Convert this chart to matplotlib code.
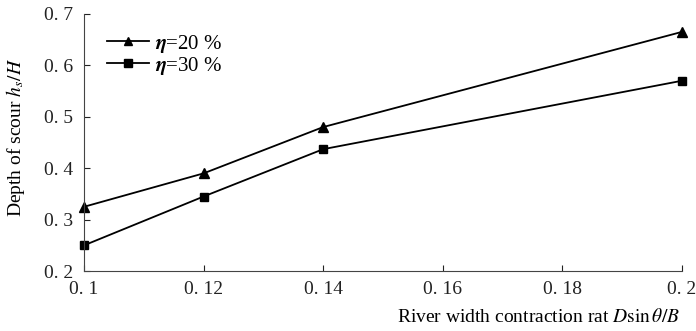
import matplotlib
matplotlib.use("Agg")
import matplotlib.pyplot as plt

# data
ratio = [0.10, 0.12, 0.14, 0.20]
depth_20 = [0.325, 0.39, 0.48, 0.665]
depth_30 = [0.25, 0.345, 0.437, 0.57]
x_ticks = [0.10, 0.12, 0.14, 0.16, 0.18, 0.20]
x_labels = ["0. 1", "0. 12", "0. 14", "0. 16", "0. 18", "0. 2"]
y_ticks = [0.2, 0.3, 0.4, 0.5, 0.6, 0.7]
y_labels = ["0. 2", "0. 3", "0. 4", "0. 5", "0. 6", "0. 7"]

plt.rcParams["font.family"] = ["Liberation Serif", "DejaVu Serif"]
plt.rcParams["mathtext.fontset"] = "stix"

fig = plt.figure(figsize=(6.96, 3.31), dpi=100)
ax = fig.add_axes([0.1207, 0.181, 0.859, 0.777])

ax.plot(ratio, depth_20, color="black", lw=1.3, marker="^", ms=7,
        label=r"$\boldsymbol{\eta}$=20 %")
ax.plot(ratio, depth_30, color="black", lw=1.3, marker="s", ms=6,
        label=r"$\boldsymbol{\eta}$=30 %")

ax.set_xlim(0.1, 0.2)
ax.set_ylim(0.2, 0.7)
ax.set_xticks(x_ticks)
ax.set_xticklabels(x_labels)
ax.set_yticks(y_ticks)
ax.set_yticklabels(y_labels)
ax.tick_params(direction="in", length=4, labelsize=14, colors="#222222")
ax.tick_params(axis="x", pad=7)
ax.tick_params(axis="y", pad=8)
for s in ["top", "right"]:
    ax.spines[s].set_visible(False)
for s in ["left", "bottom"]:
    ax.spines[s].set_color("#444444")
for p in ax.get_children():
    if hasattr(p, "set_clip_on"):
        p.set_clip_on(False)

ax.set_ylabel(r"Depth of scour $h_s/H$", fontsize=14)
ax.yaxis.set_label_coords(-0.095, 0.52)
ax.set_xlabel(r"River width contraction rat $D\sin\theta/B$", fontsize=14)
ax.xaxis.set_label_coords(0.997, -0.145)
ax.xaxis.label.set_ha("right")

ax.legend(loc="upper left", bbox_to_anchor=(0.025, 0.96), borderaxespad=0,
          frameon=False, fontsize=15, handlelength=2.0, handletextpad=0.3,
          labelspacing=0.0, markerscale=0.85)

fig.savefig("out.png", dpi=100)
